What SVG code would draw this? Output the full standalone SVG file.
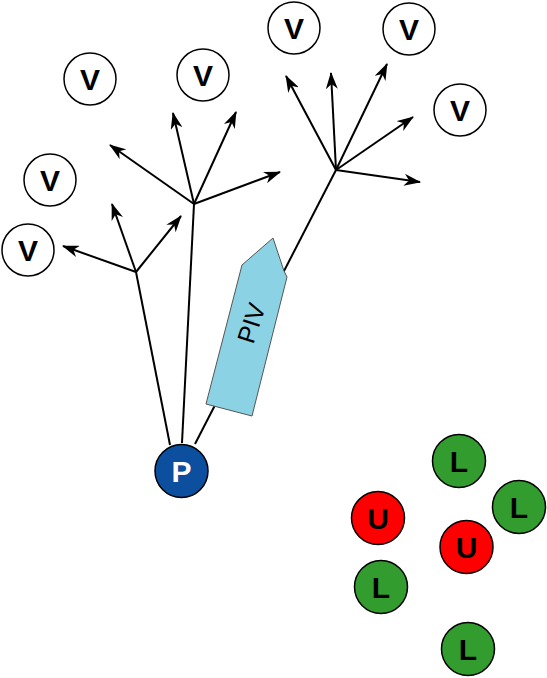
<svg xmlns="http://www.w3.org/2000/svg" width="547" height="678" viewBox="0 0 547 678">
<style>
.v{fill:#fff;stroke:#000;stroke-width:1.5}
.u{fill:#ff0000;stroke:#000;stroke-width:1.5}
.l{fill:#339c2f;stroke:#000;stroke-width:1.5}
.p{fill:#0b4f9e;stroke:#000;stroke-width:1.5}
.t{font-family:"Liberation Sans",Arial,sans-serif;font-weight:bold;font-size:30px;text-anchor:middle;fill:#000}
.tw{fill:#fff}
.c line{stroke:#000;stroke-width:2}
.c .a{marker-end:url(#ah)}
</style>
<defs>
<marker id="ah" markerUnits="userSpaceOnUse" viewBox="0 0 17 12" refX="16" refY="6" markerWidth="17" markerHeight="12" orient="auto">
<path d="M0,0 L17,6 L0,12 L5,6 Z" fill="#000"/>
</marker>
</defs>
<g id="connectors" class="c">
<line x1="170" y1="445" x2="136" y2="272"/>
<line class="a" x1="136" y1="272" x2="63" y2="246"/>
<line class="a" x1="136" y1="272" x2="112" y2="204"/>
<line class="a" x1="136" y1="272" x2="181" y2="216"/>
<line x1="182" y1="443" x2="194" y2="204"/>
<line class="a" x1="194" y1="204" x2="110" y2="145"/>
<line class="a" x1="194" y1="204" x2="173" y2="113"/>
<line class="a" x1="194" y1="204" x2="236" y2="112"/>
<line class="a" x1="194" y1="204" x2="280" y2="172"/>
<line x1="195" y1="444" x2="336" y2="170"/>
<line class="a" x1="336" y1="170" x2="286" y2="76"/>
<line class="a" x1="336" y1="170" x2="331" y2="73"/>
<line class="a" x1="336" y1="170" x2="387" y2="64"/>
<line class="a" x1="336" y1="170" x2="413" y2="117"/>
<line class="a" x1="336" y1="170" x2="420" y2="182"/>
</g>
<g id="piv">
<polygon points="206,404 252,416 287,277 284,271 273,238 242,265" fill="#8bd3e4" stroke="#555" stroke-width="1"/>
<text x="0" y="0" transform="translate(251,323) rotate(-72)" font-family="'Liberation Sans',Arial,sans-serif" font-size="25" text-anchor="middle" dominant-baseline="central">PIV</text>
</g>
<g id="v1"><circle class="v" cx="90" cy="79" r="26"/><text class="t" x="90" y="90">V</text></g>
<g id="v2"><circle class="v" cx="203" cy="75" r="26"/><text class="t" x="203" y="86">V</text></g>
<g id="v3"><circle class="v" cx="294" cy="28" r="26"/><text class="t" x="294" y="39">V</text></g>
<g id="v4"><circle class="v" cx="409" cy="29" r="26"/><text class="t" x="409" y="40">V</text></g>
<g id="v5"><circle class="v" cx="460" cy="110" r="26"/><text class="t" x="460" y="121">V</text></g>
<g id="v6"><circle class="v" cx="50" cy="180" r="26"/><text class="t" x="50" y="191">V</text></g>
<g id="v7"><circle class="v" cx="28" cy="250" r="26"/><text class="t" x="28" y="261">V</text></g>
<g id="p"><circle class="p" cx="181.5" cy="471" r="26.5"/><text class="t tw" x="181.5" y="482">P</text></g>
<g id="l1"><circle class="l" cx="459" cy="461" r="26.5"/><text class="t" x="459" y="472">L</text></g>
<g id="l2"><circle class="l" cx="519" cy="507" r="26.5"/><text class="t" x="519" y="518">L</text></g>
<g id="u1"><circle class="u" cx="378" cy="518" r="26.5"/><text class="t" x="378" y="529">U</text></g>
<g id="u2"><circle class="u" cx="466.5" cy="547" r="26.5"/><text class="t" x="466.5" y="558">U</text></g>
<g id="l3"><circle class="l" cx="381" cy="587" r="26.5"/><text class="t" x="381" y="598">L</text></g>
<g id="l4"><circle class="l" cx="468" cy="649" r="26.5"/><text class="t" x="468" y="660">L</text></g>
</svg>
